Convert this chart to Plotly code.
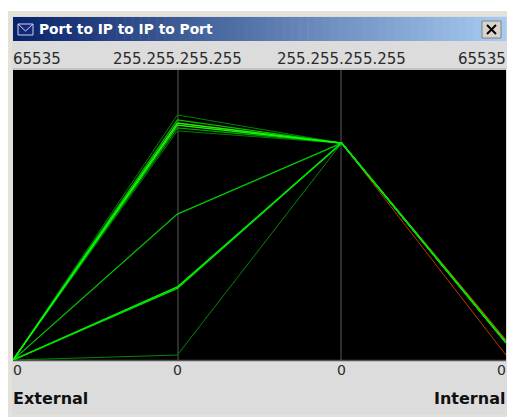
import plotly.graph_objects as go

W, H = 507, 417
L, R, T, B = 13, 506, 70, 360

title = "Port to IP to IP to Port"
top_labels = ["65535", "255.255.255.255", "255.255.255.255", "65535"]
bottom_labels = ["0", "0", "0", "0"]
left_name = "External"
right_name = "Internal"

axes_x = [0, 1, 2, 3]
# normalised value of each flow on the four parallel axes
flows = [
    [0.000, 0.017, 0.748, 0.060],
    [0.000, 0.503, 0.748, 0.060],
    [0.000, 0.252, 0.748, 0.060],
    [0.000, 0.247, 0.748, 0.060],
    [0.000, 0.845, 0.748, 0.061],
    [0.000, 0.828, 0.748, 0.060],
    [0.000, 0.817, 0.748, 0.060],
    [0.000, 0.810, 0.748, 0.060],
    [0.000, 0.800, 0.748, 0.059],
    [0.000, 0.790, 0.748, 0.060],
    [0.000, 0.810, 0.748, 0.017],
    [0.000, 0.817, 0.748, 0.068],
]
flow_colors = ["#008a00", "#00c800", "#00ff00", "#00e000", "#008000", "#00c000",
               "#00ff00", "#00ff00", "#00a000", "#007800", "#b83a00", "#a85000"]
flow_widths = [1, 1.2, 1.4, 1.4, 1, 1.2, 1.2, 1.2, 1.2, 1, 1, 1.4]
draw_order = [10, 11, 0, 1, 4, 9, 8, 5, 6, 7, 2, 3]

def px(x):
    return (x - L) / (R - L)

def py(y):
    return (B - y) / (B - T)

shapes = []

def box(x0, y0, x1, y1, fill, line=None, width=0):
    shapes.append(dict(type="rect", xref="paper", yref="paper", layer="below",
                       x0=px(x0), x1=px(x1), y0=py(y1), y1=py(y0),
                       fillcolor=fill, line=dict(color=line or fill, width=width)))

def seg(x0, y0, x1, y1, color, width=1, layer="above"):
    shapes.append(dict(type="line", xref="paper", yref="paper", layer=layer,
                       x0=px(x0), x1=px(x1), y0=py(y0), y1=py(y1),
                       line=dict(color=color, width=width)))

# window frame and panels
box(8, 11, 507, 417, "#e4e1d8")
box(12, 16, 507, 415, "#dcdcdc")

# title bar gradient
start, end = (10, 36, 106), (166, 202, 240)
n = 62
for i in range(n):
    t = i / (n - 1)
    c = tuple(round(a + (b - a) * t) for a, b in zip(start, end))
    x0 = 13 + (506 - 13) * i / n
    x1 = 13 + (506 - 13) * (i + 1) / n + 0.5
    box(x0, 17, x1, 41, "rgb(%d,%d,%d)" % c)

# envelope icon
box(18, 24, 33, 35, "#14287a", "#c8d4f0", 1)
seg(18, 24, 25.5, 31, "#c8d4f0")
seg(33, 24, 25.5, 31, "#c8d4f0")

# close button
box(482, 21, 501, 38, "#d8d4cc", "#808080", 1)
seg(487, 25, 496, 34, "#000000", 2)
seg(496, 25, 487, 34, "#000000", 2)

# plot background and axis lines
box(L, T, R, B, "#000000")
seg(L, T - 1, R, T - 1, "#aaaaaa", 1, "below")
seg(L, B + 0.5, R, B + 0.5, "#555555", 1.5, "below")
for xpos in (178, 341):
    seg(xpos, T, xpos, B, "#5a5a5a", 1, "below")

fig = go.Figure()
for i in draw_order:
    fig.add_trace(go.Scatter(x=axes_x, y=flows[i], mode="lines", hoverinfo="skip",
                             line=dict(color=flow_colors[i], width=flow_widths[i]),
                             showlegend=False, cliponaxis=True))

annotations = []

def label(x, y, text, anchor, color="#2a2a2a", size=15, family="DejaVu Sans"):
    annotations.append(dict(xref="paper", yref="paper", x=px(x), y=py(y), text=text,
                            xanchor=anchor, yanchor="middle", showarrow=False,
                            font=dict(family=family, size=size, color=color),
                            borderpad=0, borderwidth=0))

label(39, 29, "<b>%s</b>" % title, "left", "#ffffff", 13.8)
label(13, 59, top_labels[0], "left")
label(177, 59, top_labels[1], "center")
label(341, 59, top_labels[2], "center")
label(506, 59, top_labels[3], "right")
label(13, 370, bottom_labels[0], "left", size=14)
label(177, 370, bottom_labels[1], "center", size=14)
label(341, 370, bottom_labels[2], "center", size=14)
label(506, 370, bottom_labels[3], "right", size=14)
label(13, 398, "<b>%s</b>" % left_name, "left", "#111111", 16)
label(505, 398, "<b>%s</b>" % right_name, "right", "#111111", 16)

fig.update_layout(
    width=W, height=H, autosize=False,
    margin=dict(l=L, r=W - R, t=T, b=H - B, pad=0),
    paper_bgcolor="#ffffff", plot_bgcolor="rgba(0,0,0,0)",
    xaxis=dict(range=[0, 3], visible=False, fixedrange=True),
    yaxis=dict(range=[0, 1], visible=False, fixedrange=True),
    shapes=shapes, annotations=annotations,
)
fig.write_html("out.html", config=dict(displayModeBar=False),
               post_script="document.body.style.margin='0';document.body.style.overflow='hidden';")
